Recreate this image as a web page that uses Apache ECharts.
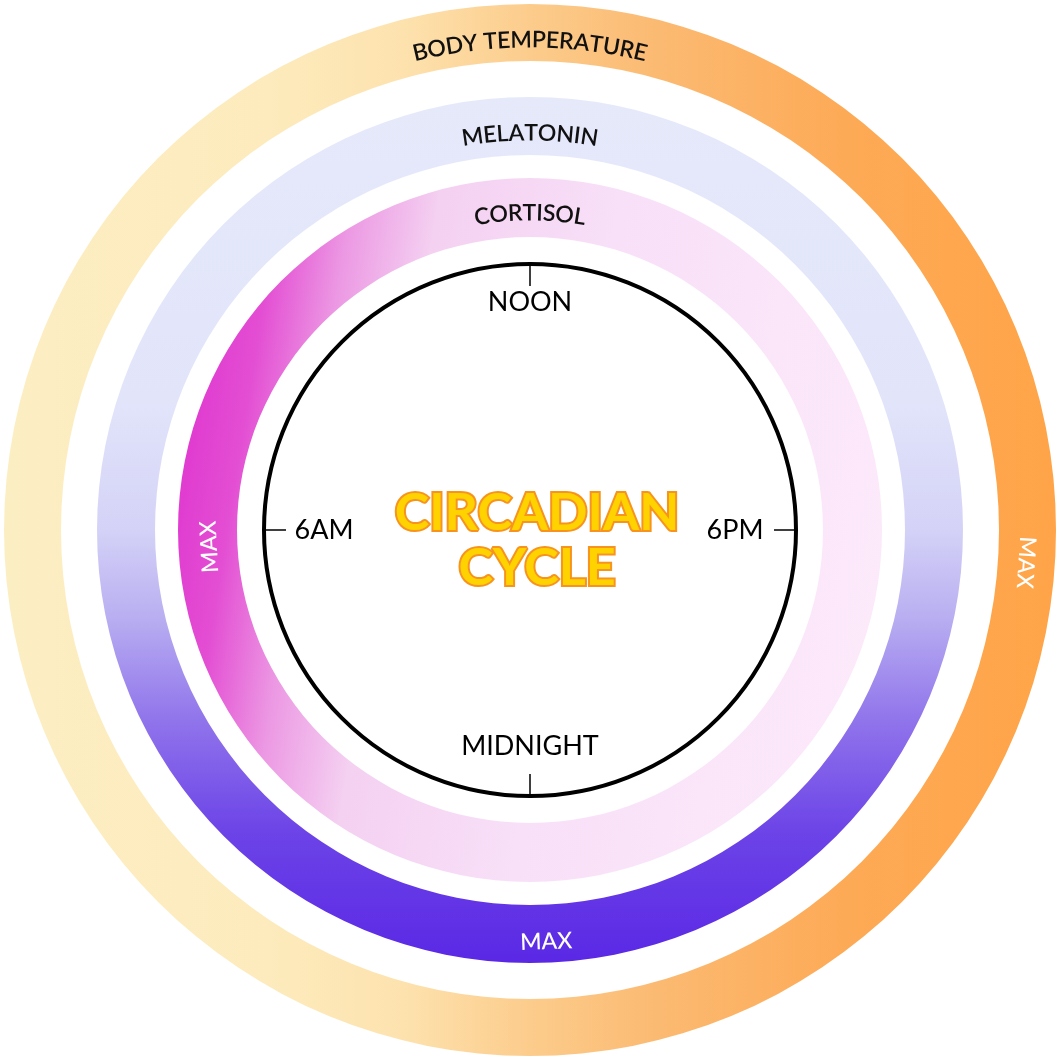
<!DOCTYPE html>
<html><head><meta charset="utf-8">
<script src="https://cdn.jsdelivr.net/npm/echarts@6/dist/echarts.min.js"></script>
<style>html,body{margin:0;padding:0;background:#fff}#c{width:1057px;height:1057px}</style>
</head><body><div id="c"></div>
<script>
// ---------- data ----------
const clockTicks = ['NOON', '6PM', 'MIDNIGHT', '6AM'];      // one label every 6 hours, starting at noon
const ringNames = ['CORTISOL', 'MELATONIN', 'BODY TEMPERATURE'];
const peakLabel = 'MAX';
const peakHours = [5.8, 23.85, 18.25];                       // clock hour of each ring's maximum
const titleLines = ['CIRCADIAN', 'CYCLE'];

// ---------- layout / style ----------
const CX = 530, CY = 530, CLOCK_R = 266;
const ringLayout = [
  { inner: 293, outer: 352, textR: 317, peakR: 321 },
  { inner: 375, outer: 433, textR: 397, peakR: 412 },
  { inner: 469, outer: 526, textR: 490, peakR: 497 }
];
const clockLabelR = [228, 205, 216, 206];
const ringFills = [
  { type: 'linear', x: 0, y: 0.42, x2: 1, y2: 0.58, colorStops: [
    { offset: 0, color: '#E03AD0' }, { offset: 0.08, color: '#E34ED3' },
    { offset: 0.18, color: '#EC98E3' }, { offset: 0.3, color: '#F4D0F1' },
    { offset: 0.55, color: '#F8E0F8' }, { offset: 1, color: '#FCE9FA' } ] },
  { type: 'linear', x: 0, y: 0, x2: 0, y2: 1, colorStops: [
    { offset: 0, color: '#E5E9FA' }, { offset: 0.35, color: '#E2E5FA' },
    { offset: 0.5, color: '#D4D2F7' }, { offset: 0.6, color: '#B9AFF1' },
    { offset: 0.72, color: '#9074EB' }, { offset: 0.85, color: '#6C43E7' },
    { offset: 1, color: '#5A28E5' } ] },
  { type: 'linear', x: 0, y: 0, x2: 1, y2: 0, colorStops: [
    { offset: 0, color: '#FCEEC3' }, { offset: 0.25, color: '#FDEBBD' },
    { offset: 0.38, color: '#FDE2AE' }, { offset: 0.5, color: '#FCCC8C' },
    { offset: 0.62, color: '#FBBA72' }, { offset: 0.8, color: '#FDAA56' },
    { offset: 1, color: '#FFA448' } ] }
];
const FONT = 'Lato, "Open Sans", sans-serif';
const RING_FONT_SIZE = 23, RING_FONT_WEIGHT = 600;

// ---------- helpers ----------
const hourToAxis = h => (h < 12 ? h + 24 : h);               // axis runs 12 .. 36
const degToAxis = d => 12 + (90 - d) / 15;
const axisToDeg = a => 90 - (a - 12) * 15;
const ctx = document.createElement('canvas').getContext('2d');
ctx.font = RING_FONT_WEIGHT + ' ' + RING_FONT_SIZE + 'px ' + FONT;

function arcLetters(text, r) {
  const widths = [...text].map(ch => ctx.measureText(ch).width);
  const total = widths.reduce((a, b) => a + b, 0);
  let s = 0; const out = [];
  [...text].forEach((ch, i) => {
    const mid = s + widths[i] / 2;
    const deg = 90 + (total / 2 - mid) / r * 180 / Math.PI;
    if (ch !== ' ') out.push({ name: ch, value: [r, degToAxis(deg)], label: { rotate: deg - 90 } });
    s += widths[i];
  });
  return out;
}

const ringSeries = ringNames.map((name, i) => ({
  type: 'pie', name, center: [CX, CY], radius: [ringLayout[i].inner, ringLayout[i].outer],
  silent: true, label: { show: false }, labelLine: { show: false }, emphasis: { disabled: true },
  itemStyle: { color: ringFills[i], borderWidth: 0 },
  data: [{ name, value: 1 }]
}));

let letterData = [];
ringNames.forEach((n, i) => { letterData = letterData.concat(arcLetters(n, ringLayout[i].textR)); });

const peakData = peakHours.map((h, i) => {
  const a = hourToAxis(h), deg = axisToDeg(a);
  const sin = Math.sin(deg * Math.PI / 180);
  const rot = sin < -0.5 ? deg + 90 : deg - 90;
  return { name: peakLabel, value: [ringLayout[i].peakR, a], label: { rotate: rot } };
});

const clockData = clockTicks.map((t, i) => ({ name: t, value: [clockLabelR[i], 12 + i * 6] }));

const scatterBase = {
  type: 'scatter', coordinateSystem: 'polar', symbolSize: 1, clip: false, silent: true,
  itemStyle: { color: 'rgba(0,0,0,0)', opacity: 1 }, emphasis: { disabled: true }
};

const chart = echarts.init(document.getElementById('c'), null, { renderer: 'canvas' });
chart.setOption({
  animation: false,
  backgroundColor: '#ffffff',
  polar: { center: [CX, CY], radius: CLOCK_R },
  angleAxis: {
    type: 'value', min: 12, max: 36, interval: 6, startAngle: 90, clockwise: true,
    axisLine: { lineStyle: { color: '#000', width: 4 } },
    axisTick: { show: true, inside: true, length: 22, lineStyle: { color: '#000', width: 1.5 } },
    axisLabel: { show: false }, splitLine: { show: false }, splitArea: { show: false }
  },
  radiusAxis: {
    type: 'value', min: 0, max: CLOCK_R, show: false,
    axisLine: { show: false }, axisTick: { show: false }, axisLabel: { show: false },
    splitLine: { show: false }
  },
  series: ringSeries.concat([
    Object.assign({}, scatterBase, {
      name: 'ring labels', data: letterData,
      label: { show: true, position: 'inside', formatter: '{b}', color: '#111', opacity: 1,
        fontSize: RING_FONT_SIZE, fontWeight: RING_FONT_WEIGHT, fontFamily: FONT }
    }),
    Object.assign({}, scatterBase, {
      name: 'peaks', data: peakData,
      label: { show: true, position: 'inside', formatter: '{b}', color: '#ffffff', opacity: 1,
        fontSize: 23, fontWeight: 500, fontFamily: FONT }
    }),
    Object.assign({}, scatterBase, {
      name: 'clock', data: clockData,
      label: { show: true, position: 'inside', formatter: '{b}', color: '#000', opacity: 1,
        fontSize: 27, fontWeight: 'normal', fontFamily: FONT }
    })
  ]),
  graphic: [{
    type: 'text', x: 537, y: 541, silent: true,
    style: {
      text: titleLines.join('\n'), fill: '#FFD200', stroke: '#F7931E', lineWidth: 4,
      fontSize: 52, fontWeight: 'bold', fontFamily: FONT, lineHeight: 55,
      align: 'center', verticalAlign: 'middle'
    }
  }]
});
</script>
</body></html>
